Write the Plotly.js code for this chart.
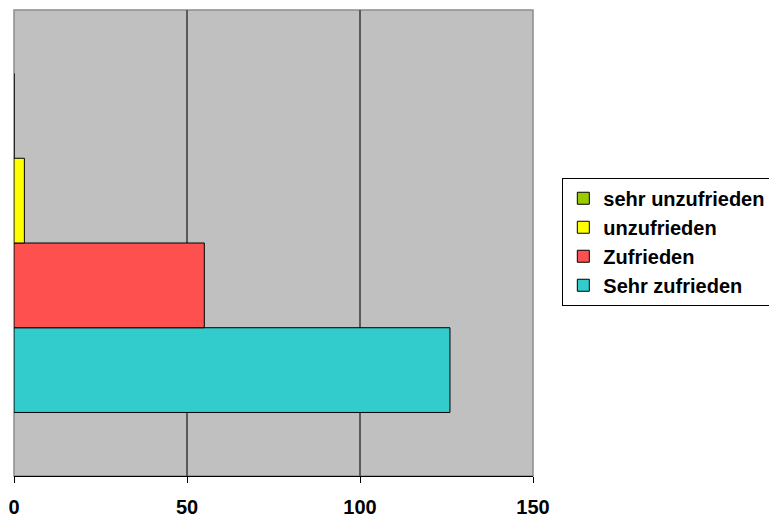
<!DOCTYPE html>
<html>
<head>
<meta charset="utf-8">
<script src="https://cdn.plot.ly/plotly-3.0.1.min.js"></script>
<style>html,body{margin:0;padding:0;background:#fff;}#chart{width:769px;height:517px;}</style>
</head>
<body>
<div id="chart"></div>
<script>
// Data
var seriesNames = ["Sehr zufrieden", "Zufrieden", "unzufrieden", "sehr unzufrieden"];
var seriesValues = [126, 55, 3, 0];
var seriesColors = ["#33cccc", "#ff5050", "#ffff00", "#99cc00"];
var category = ["Zufriedenheit"];
var xTicks = [0, 50, 100, 150];

var traces = seriesNames.map(function (name, i) {
  return {
    type: "bar",
    orientation: "h",
    name: name,
    legendrank: seriesNames.length - i,
    x: [seriesValues[i]],
    y: category,
    marker: { color: seriesColors[i], line: { color: "#000000", width: 1 } },
    hoverinfo: "x+name"
  };
});

var layout = {
  width: 769,
  height: 517,
  margin: { l: 14, r: 236, t: 10, b: 41, autoexpand: false },
  paper_bgcolor: "#ffffff",
  plot_bgcolor: "#c0c0c0",
  barmode: "group",
  bargap: 0.2727,
  bargroupgap: 0,
  font: { family: "Arial, 'Liberation Sans', sans-serif", color: "#000000" },
  xaxis: {
    range: [0, 150],
    tickvals: xTicks,
    ticktext: xTicks.map(String),
    showgrid: true,
    gridcolor: "#5a5a5a",
    gridwidth: 1.5,
    zeroline: false,
    showline: true,
    linecolor: "#000000",
    linewidth: 1,
    ticks: "outside",
    ticklen: 6,
    tickcolor: "#000000",
    tickfont: { size: 20, family: "Arial, 'Liberation Sans', sans-serif", weight: "bold" },
    ticklabelstandoff: 7,
    fixedrange: true
  },
  yaxis: {
    type: "category",
    range: [-0.5, 0.5],
    showticklabels: false,
    showgrid: false,
    zeroline: false,
    ticks: "",
    fixedrange: true
  },
  legend: {
    x: 1.0565,
    xanchor: "left",
    y: 0.64,
    yanchor: "top",
    traceorder: "normal",
    bgcolor: "#ffffff",
    bordercolor: "#000000",
    borderwidth: 1,
    font: { size: 20, family: "Arial, 'Liberation Sans', sans-serif", weight: "bold" }
  },
  shapes: [
    { type: "rect", xref: "paper", yref: "paper", x0: 0, x1: 1, y0: 0, y1: 1,
      line: { color: "#8c8c8c", width: 1.5 }, fillcolor: "rgba(0,0,0,0)", layer: "below" }
  ],
  showlegend: true
};

Plotly.newPlot("chart", traces, layout, { displayModeBar: false, staticPlot: true });
</script>
</body>
</html>
